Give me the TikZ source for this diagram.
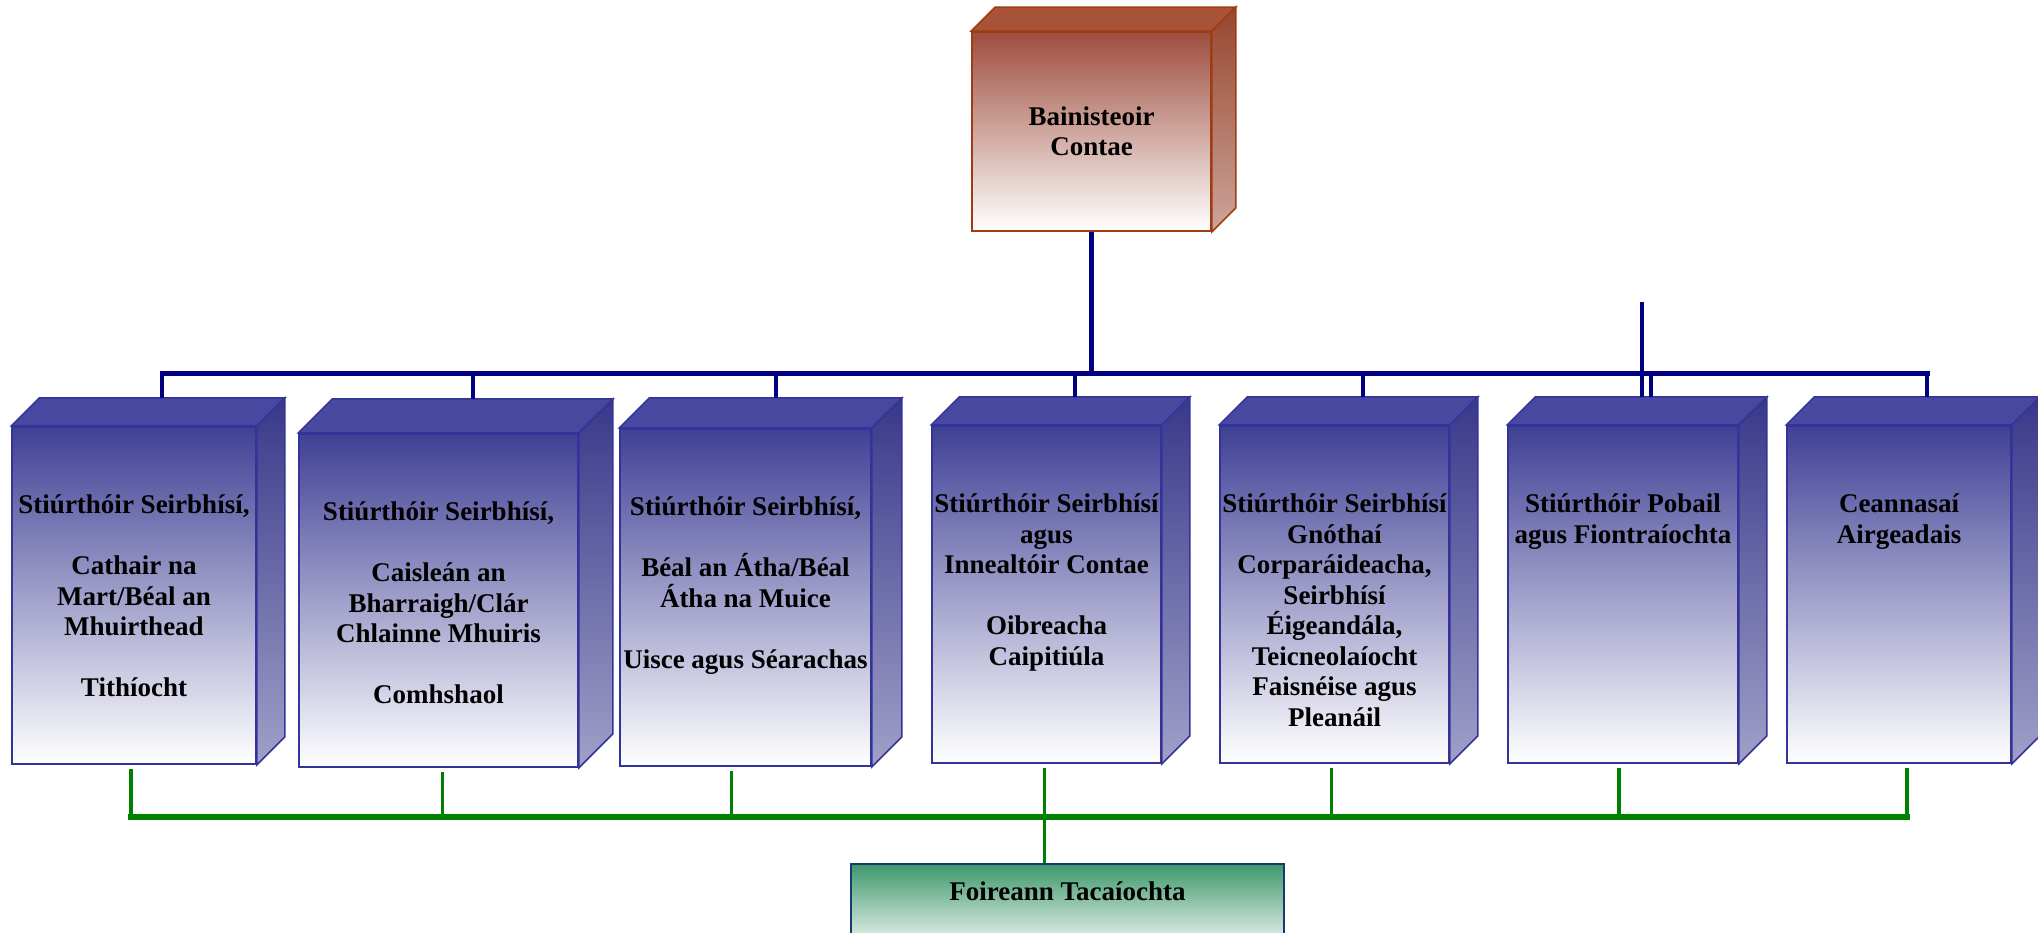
\documentclass[tikz,border=0pt]{standalone}
\usepackage{fontspec}
\setmainfont{Liberation Serif}
\usetikzlibrary{positioning}

\definecolor{deptedge}{RGB}{51,51,153}
\definecolor{depttop}{RGB}{64,64,150}
\definecolor{deptroof}{RGB}{72,72,160}
\definecolor{deptside}{RGB}{56,56,138}
\definecolor{deptsidelow}{RGB}{160,160,200}
\definecolor{bossedge}{RGB}{160,60,20}
\definecolor{bosstop}{RGB}{158,78,62}
\definecolor{bossroof}{RGB}{168,82,55}
\definecolor{bossside}{RGB}{150,70,45}
\definecolor{bosssidelow}{RGB}{205,165,155}
\definecolor{staffedge}{RGB}{20,60,110}
\definecolor{stafftop}{RGB}{62,152,108}
\definecolor{orgblue}{RGB}{0,0,128}
\definecolor{orggreen}{RGB}{0,128,0}

\begin{document}
\begin{tikzpicture}[x=1pt, y=1pt,
 boxfont/.style={font=\bfseries\fontsize{27}{30.5}\selectfont},
 deptbox/.style={draw=deptedge, line width=1.8pt, top color=depttop, bottom color=white, minimum height=337pt, inner sep=0pt, anchor=north},
 depttext/.style={boxfont, align=center, inner sep=0pt},
 roof/.style={draw=deptedge, line width=1.5pt, fill=deptroof},
 side/.style={draw=deptedge, line width=1.5pt, top color=deptside, bottom color=deptsidelow},
 blueline/.style={draw=orgblue, line width=5pt},
 bluedrop/.style={draw=orgblue, line width=4pt},
 greenline/.style={draw=orggreen, line width=6pt},
 greendrop/.style={draw=orggreen, line width=3.5pt}]

\useasboundingbox (0,0) rectangle (2038,932);
\clip (0,0) rectangle (2038,932);

% county manager
\node (boss) at (1091.5,800.5) [draw=bossedge, line width=1.8pt, top color=bosstop, bottom color=white, minimum width=239pt, minimum height=199pt, boxfont, align=center]{Bainisteoir\\Contae};
\draw[roof, draw=bossedge, fill=bossroof] (boss.north west) -- ++(24,24) -- ([shift={(24,24)}]boss.north east) -- (boss.north east) -- cycle;
\draw[side, draw=bossedge, top color=bossside, bottom color=bosssidelow] (boss.north east) -- ++(24,24) -- ([shift={(24,24)}]boss.south east) -- (boss.south east) -- cycle;

% directors
\node (b1) at (134,506) [deptbox, minimum width=244pt]{};
\node (b2) at (438.5,499) [deptbox, minimum width=279pt, minimum height=333pt]{};
\node (b3) at (745.5,504) [deptbox, minimum width=251pt]{};
\node (b4) at (1046.5,507) [deptbox, minimum width=229pt]{};
\node (b5) at (1334.5,507) [deptbox, minimum width=229pt]{};
\node (b6) at (1623,507) [deptbox, minimum width=230pt]{};
\node (b7) at (1899,507) [deptbox, minimum width=224pt]{};

\foreach \b/\d in {b1/28, b2/34, b3/30, b4/28, b5/28, b6/28, b7/28}{
 \draw[roof] (\b.north west) -- ++(\d,\d) -- ([shift={(\d,\d)}]\b.north east) -- (\b.north east) -- cycle;
 \draw[side] (\b.north east) -- ++(\d,\d) -- ([shift={(\d,\d)}]\b.south east) -- (\b.south east) -- cycle;
 \coordinate (\b-top) at ([shift={(\d,\d)}]\b.north);
}

\node (t1) [depttext, below=69pt of b1.north]{Stiúrthóir Seirbhísí,\\[30.5pt]Cathair na\\Mart/Béal an\\Mhuirthead\\[30.5pt]Tithíocht};
\node (t2) [depttext, below=69pt of b2.north]{Stiúrthóir Seirbhísí,\\[30.5pt]Caisleán an\\Bharraigh/Clár\\Chlainne Mhuiris\\[30.5pt]Comhshaol};
\node (t3) [depttext, below=69pt of b3.north]{Stiúrthóir Seirbhísí,\\[30.5pt]Béal an Átha/Béal\\Átha na Muice\\[30.5pt]Uisce agus Séarachas};
\node (t4) [depttext, below=69pt of b4.north]{Stiúrthóir Seirbhísí\\agus\\Innealtóir Contae\\[30.5pt]Oibreacha\\Caipitiúla};
\node (t5) [depttext, below=69pt of b5.north]{Stiúrthóir Seirbhísí\\Gnóthaí\\Corparáideacha,\\Seirbhísí\\Éigeandála,\\Teicneolaíocht\\Faisnéise agus\\Pleanáil};
\node (t6) [depttext, below=69pt of b6.north]{Stiúrthóir Pobail\\agus Fiontraíochta};
\node (t7) [depttext, below=69pt of b7.north]{Ceannasaí\\Airgeadais};

% support staff
\node (staff) at (1067.5,69) [draw=staffedge, line width=1.8pt, top color=stafftop, middle color=stafftop!25, bottom color=white, minimum width=433pt, minimum height=90pt, anchor=north]{};
\node (tstaff) [depttext, below=19pt of staff.north]{Foireann Tacaíochta};

% blue lines
\coordinate (bus) at (1091.5,558);
\draw[blueline] (boss.south) -- (boss.south |- bus);
\foreach \i in {1,...,7} \draw[bluedrop] (b\i-top |- bus) -- (b\i-top);
\draw[blueline, line cap=rect] (b1-top |- bus) -- (b7-top |- bus);
\coordinate (stub) at (1642,630);
\draw[bluedrop] (stub) -- (stub |- b6-top);

% green lines
\coordinate (gbus) at (1044,115);
\foreach \i/\dx in {1/-3, 2/4, 3/-14, 4/-2, 5/-3, 6/-4, 7/8}{
 \coordinate (g\i) at ([xshift=\dx pt, yshift=-4pt]b\i.south);
 \draw[greendrop] (g\i) -- (g\i |- gbus);
}
\draw[greenline, line cap=rect] (g1 |- gbus) -- (g7 |- gbus);
\draw[greendrop] (g4 |- gbus) -- (g4 |- staff.north);

\end{tikzpicture}
\end{document}
